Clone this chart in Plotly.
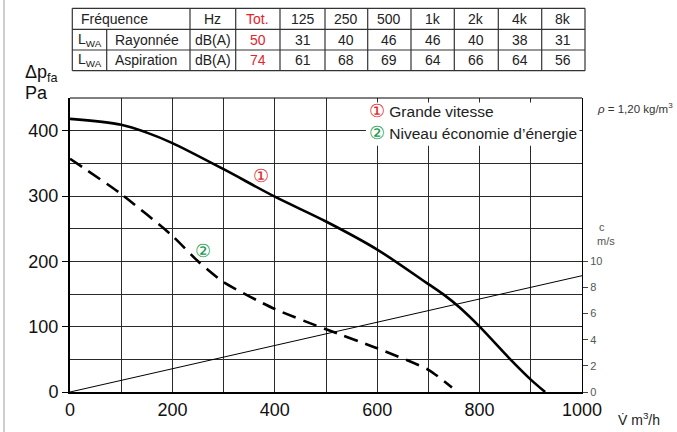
import plotly.graph_objects as go

# ---------------- data ----------------
flow_hi = [0, 100, 150, 200, 300, 400, 500, 600, 700, 730, 760, 800, 860, 900, 928]
dp_hi = [418, 409, 397, 381, 341, 299, 261, 218, 165, 149, 130, 100, 50, 19, 0]

flow_eco = [0, 100, 200, 250, 300, 400, 500, 600, 700, 746]
dp_eco = [357, 303, 239, 200, 168, 127, 96, 67, 34, 7]

vel_flow = [0, 1000]
vel_c = [0, 8.9]

x_ticks = [0, 200, 400, 600, 800, 1000]
y_ticks = [0, 100, 200, 300, 400]
c_ticks = [0, 2, 4, 6, 8, 10]

freq_labels = ["125", "250", "500", "1k", "2k", "4k", "8k"]
lwa_rayonnee = [31, 40, 46, 46, 40, 38, 31]
lwa_aspiration = [61, 68, 69, 64, 66, 64, 56]
tot_rayonnee = 50
tot_aspiration = 74

RED = "#e3242b"
GREEN = "#159a48"
FONT = "Liberation Sans, Arial, sans-serif"
NUMFONT = "Liberation Sans, Arial, sans-serif"

# ---------------- geometry helpers (pixel -> paper) ----------------
W, H = 677, 432
L, R, T, B = 70, 95, 98, 40
PW, PH = W - L - R, H - T - B


def px(x):
    return (x - L) / PW


def py(y):
    return (H - B - y) / PH


fig = go.Figure()

fig.add_trace(go.Scatter(x=vel_flow, y=vel_c, yaxis="y2", mode="lines",
                         line=dict(color="black", width=1), hoverinfo="skip"))
fig.add_trace(go.Scatter(x=flow_hi, y=dp_hi, mode="lines",
                         line=dict(color="black", width=2.6, shape="spline", smoothing=0.9)))
fig.add_trace(go.Scatter(x=flow_eco, y=dp_eco, mode="lines",
                         line=dict(color="black", width=2.6, shape="spline", smoothing=0.6,
                                   dash="14px,8px")))

grid_col = "#2a2a2a"
fig.update_layout(
    width=W, height=H,
    margin=dict(l=L, r=R, t=T, b=B),
    paper_bgcolor="white", plot_bgcolor="white",
    showlegend=False,
    xaxis=dict(range=[0, 1000], tickmode="array", tickvals=x_ticks,
               showgrid=True, gridcolor=grid_col, gridwidth=1,
               minor=dict(tickmode="linear", tick0=0, dtick=100, showgrid=True,
                          gridcolor=grid_col, gridwidth=1),
               showline=True, linecolor="black", linewidth=2,
               ticks="", zeroline=False,
               tickfont=dict(family=NUMFONT, size=18, color="#111")),
    yaxis=dict(range=[0, 450], tickmode="array", tickvals=y_ticks,
               showgrid=True, gridcolor=grid_col, gridwidth=1,
               minor=dict(tickmode="linear", tick0=0, dtick=50, showgrid=True,
                          gridcolor=grid_col, gridwidth=1),
               showline=True, linecolor="black", linewidth=2,
               ticks="outside", ticklen=6, tickcolor="black", tickwidth=1,
               zeroline=False,
               tickfont=dict(family=NUMFONT, size=18, color="#111")),
    yaxis2=dict(range=[0, 22.5], overlaying="y", side="right",
                tickmode="array", tickvals=c_ticks,
                showgrid=False, zeroline=False,
                showline=True, linecolor="black", linewidth=1,
                ticks="outside", ticklen=5, tickcolor="#444", tickwidth=1,
                tickfont=dict(family=NUMFONT, size=11, color="#555")),
)

shapes = []
# top border of the plot
shapes.append(dict(type="line", xref="paper", yref="paper", x0=0, x1=1, y0=1, y1=1,
                   line=dict(color="black", width=1)))
# page border on the left
shapes.append(dict(type="line", xref="paper", yref="paper", x0=px(4), x1=px(4),
                   y0=py(0), y1=py(432), line=dict(color="#cfcfcf", width=2)))
# white box behind the legend text (covers the grid there)
shapes.append(dict(type="rect", xref="x", yref="y", x0=578, x1=995,
                   y0=377, y1=443, fillcolor="white", line=dict(width=0),
                   layer="between"))

# ---------------- table ----------------
tcol = [72.3, 190, 235.7, 280, 325, 367.7, 411, 454.3, 498.3, 541.7, 585]
trow = [8.3, 29.3, 50, 70.7]
tline = dict(color="#333", width=1.2)
for yy in trow:
    shapes.append(dict(type="line", xref="paper", yref="paper", x0=px(tcol[0]), x1=px(tcol[-1]),
                       y0=py(yy), y1=py(yy), line=tline))
for xx in tcol:
    shapes.append(dict(type="line", xref="paper", yref="paper", x0=px(xx), x1=px(xx),
                       y0=py(trow[0]), y1=py(trow[-1]), line=tline))
shapes.append(dict(type="line", xref="paper", yref="paper", x0=px(106.7), x1=px(106.7),
                   y0=py(trow[1]), y1=py(trow[-1]), line=tline))

annotations = []


def cell_text(text, x, y, color="#222", size=14, anchor="center", family=FONT):
    annotations.append(dict(text=text, x=px(x), y=py(y), xref="paper", yref="paper",
                            showarrow=False, xanchor=anchor, yanchor="middle",
                            font=dict(family=family, size=size, color=color)))


row_cy = [(trow[i] + trow[i + 1]) / 2 for i in range(3)]
cell_text("Fréquence", 79, row_cy[0], anchor="left")
header = ["Hz", "Tot."] + freq_labels
r2 = ["dB(A)", str(tot_rayonnee)] + [str(v) for v in lwa_rayonnee]
r3 = ["dB(A)", str(tot_aspiration)] + [str(v) for v in lwa_aspiration]
for i in range(len(header)):
    cx = (tcol[i + 1] + tcol[i + 2]) / 2
    col = RED if i == 1 else "#222"
    cell_text(header[i], cx, row_cy[0], color=col)
    cell_text(r2[i], cx, row_cy[1], color=col)
    cell_text(r3[i], cx, row_cy[2], color=col)
for k, name in enumerate(["Rayonnée", "Aspiration"]):
    cell_text("L<sub>WA</sub>", 89.5, row_cy[k + 1])
    cell_text(name, 113, row_cy[k + 1], anchor="left")

# ---------------- axis titles and notes ----------------
cell_text("Δp<sub>fa</sub>", 23, 73, color="#111", size=18, anchor="left", family=NUMFONT)
cell_text("Pa", 23, 93, color="#111", size=18, anchor="left", family=NUMFONT)
cell_text("V̇ m<sup>3</sup>/h", 616, 419, color="#222", size=14, anchor="left")
cell_text("c", 597, 227, color="#555", size=11, anchor="left", family=NUMFONT)
cell_text("m/s", 595, 241, color="#555", size=11, anchor="left", family=NUMFONT)
cell_text("<i>ρ</i> = 1,20 kg/m<sup>3</sup>", 595, 108, color="#333", size=11.5, anchor="left",
          family=NUMFONT)

# legend-like labels
cell_text(f"<span style='color:{RED};font-size:18px'>①</span> Grande vitesse", 367, 111,
          color="#222", size=15.5, anchor="left")
cell_text(f"<span style='color:{GREEN};font-size:18px'>②</span> Niveau économie d’énergie", 367,
          133, color="#222", size=15.5, anchor="left")

# curve markers
annotations.append(dict(text="①", x=374, y=331, xref="x", yref="y", showarrow=False,
                        font=dict(family=FONT, size=18, color=RED)))
annotations.append(dict(text="②", x=260, y=216, xref="x", yref="y", showarrow=False,
                        font=dict(family=FONT, size=18, color=GREEN)))

fig.update_layout(shapes=shapes, annotations=annotations)
fig.write_html("out.html", config={"displayModeBar": False},
               post_script="document.body.style.margin='0';"
                           "document.body.style.overflow='hidden';")
